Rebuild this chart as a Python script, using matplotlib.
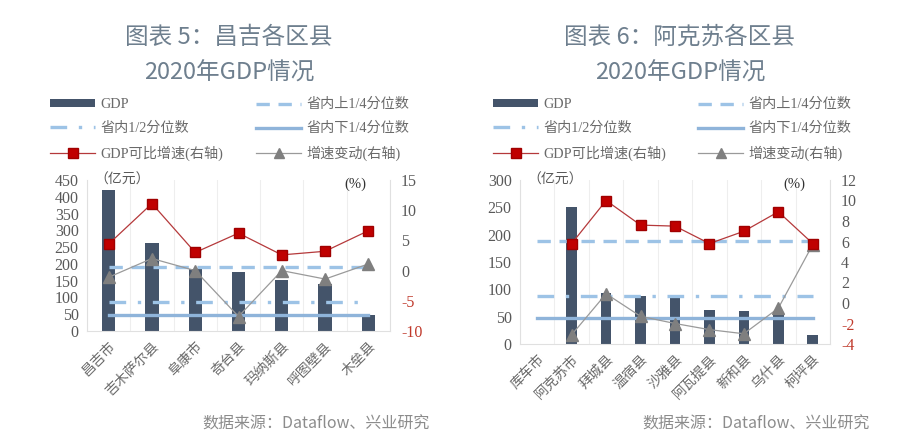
import numpy as np
import matplotlib
matplotlib.use("Agg")
import matplotlib.pyplot as plt
from matplotlib.lines import Line2D
from matplotlib.patches import Patch

SERIF = ["Liberation Serif", "Noto Sans CJK SC"]
SANS = ["Noto Sans CJK SC", "DejaVu Sans"]
plt.rcParams["font.family"] = SERIF

# 昌吉 (图表5)
cj_names = ["昌吉市", "吉木萨尔县", "阜康市", "奇台县", "玛纳斯县", "呼图壁县", "木垒县"]
cj_gdp = [420, 261, 184, 176, 152, 139, 47]
cj_growth = [4.4, 11.1, 3.0, 6.2, 2.6, 3.2, 6.6]
cj_change = [-1.1, 2.0, 0.0, -7.6, 0.0, -1.4, 1.1]
cj_quart = [190, 87, 48]   # 上1/4, 1/2, 下1/4

# 阿克苏 (图表6)
aks_names = ["库车市", "阿克苏市", "拜城县", "温宿县", "沙雅县", "阿瓦提县", "新和县", "乌什县", "柯坪县"]
aks_gdp = [np.nan, 250, 94, 88, 85, 63, 61, 57, 16]
aks_growth = [np.nan, 5.8, 10.0, 7.6, 7.5, 5.8, 7.0, 8.9, 5.8]
aks_change = [np.nan, -3.1, 0.9, -1.3, -2.0, -2.6, -3.0, -0.5, 5.7]
aks_quart = [189, 87, 47.5]

BAR_C = "#44546a"
RED = "#c00000"
REDLINE = "#b5393b"
GRAY = "#7f7f7f"
QC = "#9dc3e6"
QC_LOW = "#8fb4da"
TXT = "#595959"
LEG_TXT = "#6a6a6a"
TITLE_C = "#6e7f8e"

W, H = 900, 441
fig = plt.figure(figsize=(9, 4.41), dpi=100)


def fr(x0, y0, x1, y1):
    return [x0 / W, 1 - y1 / H, (x1 - x0) / W, (y1 - y0) / H]


def panel(rect, names, gdp, growth, change, quart, ylim, y2lim, y2step,
          title, title_x, leg_x):
    ax = fig.add_axes(fr(*rect))
    n = len(names)
    x = np.arange(n)
    ax.bar(x, gdp, width=0.31, color=BAR_C, zorder=2)
    ax.plot([0, n - 1], [quart[0]] * 2, color=QC, lw=2.4,
            dashes=(4, 2.6), zorder=3)
    ax.plot([0, n - 1], [quart[1]] * 2, color=QC, lw=2.4,
            dashes=(5, 3.5, 1, 3.5), zorder=3)
    ax.plot([0, n - 1], [quart[2]] * 2, color=QC_LOW, lw=2.4, zorder=3)
    ax.set_xlim(-0.5, n - 0.5)
    ax.set_ylim(*ylim)
    ax.set_yticks(np.arange(ylim[0], ylim[1] + 1, 50))
    ax.set_xticks(x)
    ax.set_xticklabels(names, rotation=45, ha="right", rotation_mode="anchor",
                       fontsize=10, color="#6a6a6a", family=SANS)
    ax.set_xticks(np.arange(n + 1) - 0.5, minor=True)
    ax.grid(axis="x", which="minor", color="#eeeeee", lw=0.8, zorder=0)
    ax.tick_params(axis="x", which="both", length=0, pad=6)
    ax.tick_params(axis="y", length=0, labelsize=11.5, labelcolor=TXT, pad=6)
    for s in ["top", "right"]:
        ax.spines[s].set_visible(False)
    for s in ["left", "bottom"]:
        ax.spines[s].set_color("#e0e0e0")

    ax2 = ax.twinx()
    ax2.plot(x, growth, color=REDLINE, lw=0.9, marker="s", markersize=7.5,
             markerfacecolor=RED, markeredgecolor="#a00000", zorder=5)
    ax2.plot(x, change, color="#9a9a9a", lw=0.9, marker="^", markersize=8,
             markerfacecolor=GRAY, markeredgecolor=GRAY, zorder=4)
    ax2.set_ylim(*y2lim)
    ticks = np.arange(y2lim[0], y2lim[1] + 1, y2step)
    ax2.set_yticks(ticks)
    ax2.set_yticklabels([f"{t:g}" for t in ticks])
    for t, lab in zip(ticks, ax2.get_yticklabels()):
        lab.set_color("#c0392b" if t < 0 else TXT)
    ax2.tick_params(axis="y", length=0, labelsize=11.5, pad=8)
    for s in ["top", "left", "bottom"]:
        ax2.spines[s].set_visible(False)
    ax2.spines["right"].set_color("#e0e0e0")

    ax.text(0.025, 1.0, "（亿元）", transform=ax.transAxes, ha="left",
            va="center", fontsize=10, color=TXT, family=SANS)
    ax.text(0.885, 0.975, "(%)", transform=ax.transAxes, ha="center",
            va="center", fontsize=10.5, color="#333333")

    fig.text(title_x / W, 1 - 37 / H, title, ha="center", va="center",
             fontsize=17, color=TITLE_C, family=SANS)
    fig.text(title_x / W, 1 - 73 / H, "2020年GDP情况", ha="center",
             va="center", fontsize=17, color=TITLE_C, family=SANS)

    col1 = [Patch(facecolor=BAR_C),
            Line2D([], [], color=QC, lw=2.4, dashes=(5, 3.5, 1, 3.5)),
            Line2D([], [], color=REDLINE, lw=0.9, marker="s", markersize=7,
                   markerfacecolor=RED, markeredgecolor="#a00000")]
    lab1 = ["GDP", "省内1/2分位数", "GDP可比增速(右轴)"]
    col2 = [Line2D([], [], color=QC, lw=2.4, dashes=(4, 2.6)),
            Line2D([], [], color=QC_LOW, lw=2.4),
            Line2D([], [], color="#9a9a9a", lw=0.9, marker="^", markersize=7,
                   markerfacecolor=GRAY, markeredgecolor=GRAY)]
    lab2 = ["省内上1/4分位数", "省内下1/4分位数", "增速变动(右轴)"]
    for hs, ls, lx in [(col1, lab1, leg_x[0]), (col2, lab2, leg_x[1])]:
        lg = fig.legend(hs, ls, loc="upper left",
                        bbox_to_anchor=(lx / W, 1 - 98 / H), frameon=False,
                        fontsize=10.2, handlelength=3.2, handleheight=0.55,
                        handletextpad=0.35, labelspacing=0.75, borderpad=0,
                        borderaxespad=0)
        for t in lg.get_texts():
            t.set_color(LEG_TXT)

    fig.text((rect[2] + 40) / W, 1 - 424 / H, "数据来源：Dataflow、兴业研究",
             ha="right", va="center", fontsize=11.5, color="#8c8c8c",
             family=SANS)
    return ax


panel((87, 180, 390, 331), cj_names, cj_gdp, cj_growth, cj_change, cj_quart,
      (0, 450), (-10, 15), 5, "图表 5：昌吉各区县", 229, (50, 256))
panel((520, 180, 830, 344), aks_names, aks_gdp, aks_growth, aks_change,
      aks_quart, (0, 300), (-4, 12), 2, "图表 6：阿克苏各区县", 680, (493, 698))

fig.savefig("out.png", dpi=100)
